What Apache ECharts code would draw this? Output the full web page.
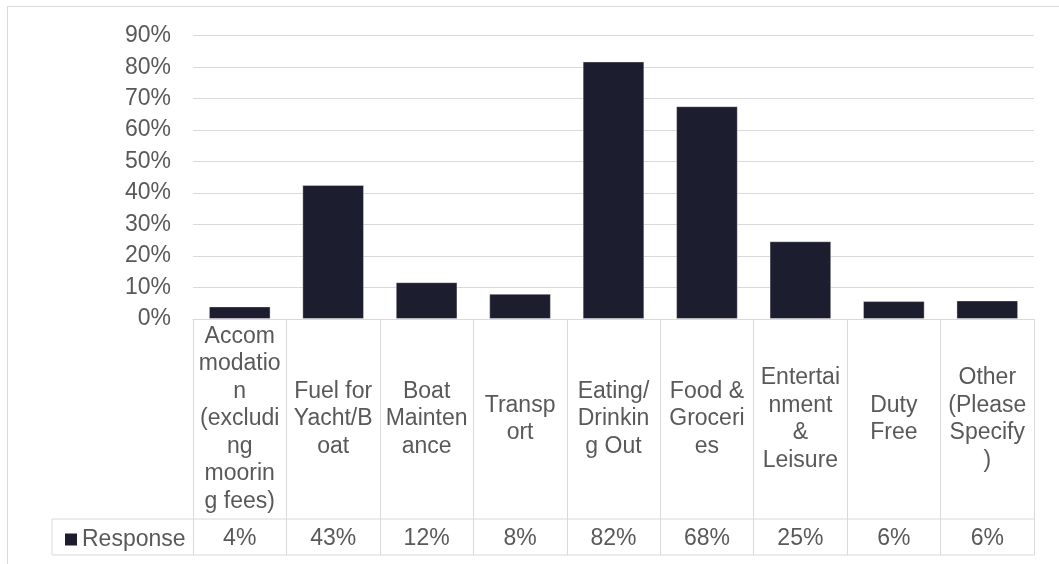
<!DOCTYPE html>
<html>
<head>
<meta charset="utf-8">
<script src="https://cdn.jsdelivr.net/npm/echarts@6/dist/echarts.min.js"></script>
<style>
  html, body { margin: 0; padding: 0; background: #ffffff; }
  #chart { width: 1059px; height: 564px; }
</style>
</head>
<body>
<div id="chart"></div>
<script>
// ---- data ----
const categories = [
  'Accommodation (excluding mooring fees)',
  'Fuel for Yacht/Boat',
  'Boat Maintenance',
  'Transport',
  'Eating/Drinking Out',
  'Food & Groceries',
  'Entertainment & Leisure',
  'Duty Free',
  'Other (Please Specify)'
];
const seriesName = 'Response';
const responseValues = [0.04, 0.426, 0.117, 0.08, 0.818, 0.676, 0.247, 0.057, 0.059];
const yTicks = [0, 0.1, 0.2, 0.3, 0.4, 0.5, 0.6, 0.7, 0.8, 0.9];

// ---- styling ----
const FONT = '"Liberation Sans", Arial, sans-serif';
const FS = 23;
const TEXT = '#595959';
const LINE = '#d9d9d9';
const BAR = '#1c1d2f';
const WRAP_W = 82.4;
const ROW1_H = 200;
const ROW2_H = 36;
const LEGEND_CELL_LEFT = 52;

const ctx = document.createElement('canvas').getContext('2d');
ctx.font = FS + 'px ' + FONT;
function wrap(text, maxW) {
  const words = text.split(' ');
  const lines = [];
  let line = '';
  for (const w of words) {
    const cand = line ? line + ' ' + w : w;
    if (ctx.measureText(cand).width <= maxW) { line = cand; continue; }
    if (line) { lines.push(line); line = ''; }
    let rest = w;
    while (ctx.measureText(rest).width > maxW && rest.length > 1) {
      let i = 1;
      while (i < rest.length && ctx.measureText(rest.slice(0, i + 1)).width <= maxW) i++;
      lines.push(rest.slice(0, i));
      rest = rest.slice(i);
    }
    line = rest;
  }
  if (line) lines.push(line);
  return lines.join('\n');
}
const pct = v => Math.round(v * 100) + '%';

const chart = echarts.init(document.getElementById('chart'), null, { renderer: 'canvas' });
chart.setOption({
  animation: false,
  textStyle: { fontFamily: FONT },
  grid: { left: 193, right: 25, top: 35.7, bottom: 245, outerBoundsMode: 'none' },
  legend: {
    data: [seriesName],
    left: 60, top: 523,
    icon: 'rect', itemWidth: 12, itemHeight: 12,
    itemStyle: { borderWidth: 0 },
    textStyle: { fontSize: FS, color: TEXT, fontFamily: FONT },
    selectedMode: false
  },
  xAxis: [{
    type: 'category',
    data: categories,
    axisLine: { show: true, lineStyle: { color: LINE, width: 1 } },
    axisTick: { show: true, length: ROW1_H + ROW2_H, interval: 0, lineStyle: { color: LINE, width: 1 } },
    axisLabel: {
      interval: 0, margin: ROW1_H / 2, verticalAlign: 'middle', align: 'center',
      fontSize: FS, lineHeight: 27.5, color: TEXT, fontFamily: FONT,
      formatter: v => wrap(v, WRAP_W)
    }
  }, {
    type: 'category',
    data: categories,
    position: 'bottom',
    axisLine: { show: false },
    axisTick: { show: false },
    axisLabel: {
      interval: 0, margin: ROW1_H + ROW2_H / 2 + 1.5, verticalAlign: 'middle', align: 'center',
      fontSize: FS, color: TEXT, fontFamily: FONT,
      formatter: (v, i) => pct(responseValues[i])
    }
  }],
  yAxis: {
    type: 'value', min: 0, max: 0.9, interval: 0.1,
    axisLine: { show: false }, axisTick: { show: false },
    axisLabel: { margin: 22, fontSize: FS, color: TEXT, fontFamily: FONT, formatter: v => pct(v) },
    splitLine: { lineStyle: { color: LINE, width: 1 } }
  },
  series: [{
    name: seriesName,
    type: 'bar',
    data: responseValues,
    barWidth: '66%',
    itemStyle: { color: BAR, borderColor: 'rgba(255,255,255,0.35)', borderWidth: 1 }
  }]
});

// table lines and chart frame built from the axis scales
const c0 = chart.convertToPixel({ xAxisIndex: 0 }, 0);
const c1 = chart.convertToPixel({ xAxisIndex: 0 }, 1);
const cN = chart.convertToPixel({ xAxisIndex: 0 }, categories.length - 1);
const band = c1 - c0;
const xRight = cN + band / 2;
const y0 = chart.convertToPixel({ yAxisIndex: 0 }, 0);
const yRow = y0 + ROW1_H;
const yBot = y0 + ROW1_H + ROW2_H;
const ls = { stroke: LINE, lineWidth: 1 };
chart.setOption({
  graphic: [
    { type: 'line', shape: { x1: LEGEND_CELL_LEFT, y1: yRow, x2: xRight, y2: yRow }, style: ls, silent: true },
    { type: 'line', shape: { x1: LEGEND_CELL_LEFT, y1: yBot, x2: xRight, y2: yBot }, style: ls, silent: true },
    { type: 'line', shape: { x1: LEGEND_CELL_LEFT, y1: yRow, x2: LEGEND_CELL_LEFT, y2: yBot }, style: ls, silent: true },
    { type: 'line', shape: { x1: 7, y1: 6.5, x2: 1059, y2: 6.5 }, style: ls, silent: true },
    { type: 'line', shape: { x1: 7.5, y1: 6, x2: 7.5, y2: 564 }, style: ls, silent: true }
  ]
});
</script>
</body>
</html>
